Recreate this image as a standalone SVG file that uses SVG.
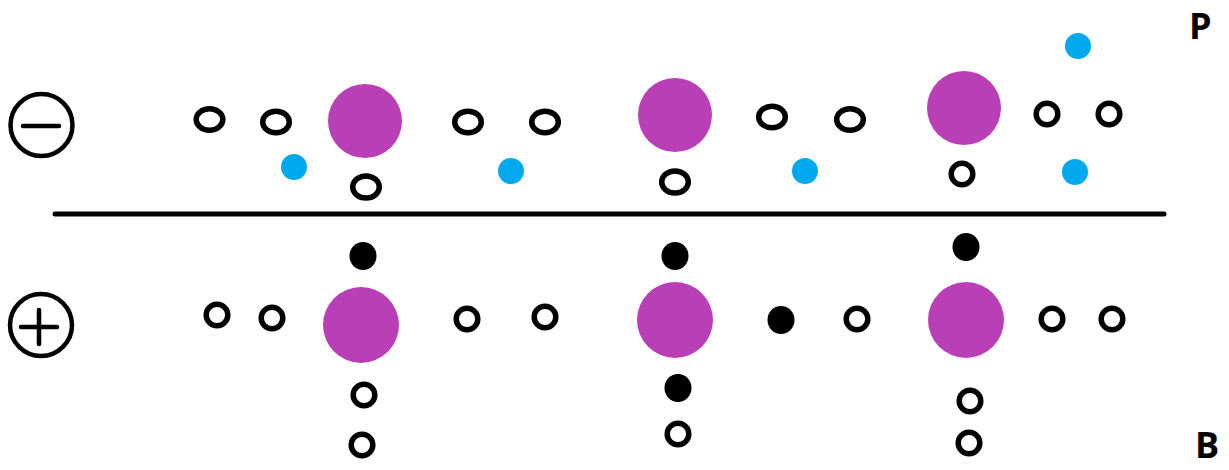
<svg xmlns="http://www.w3.org/2000/svg" width="1229" height="470" viewBox="0 0 1229 470">
<style>
.ion{fill:#B83FB6}
.blue{fill:#00A9EE}
.ring{fill:none;stroke:#000;stroke-width:5.5}
.dot{fill:#000}
.sign{fill:none;stroke:#000;stroke-width:4.5;stroke-linecap:round}
.lbl{font-family:"Open Sans","Liberation Sans",sans-serif;font-weight:bold;font-size:36px;fill:#000}
</style>
<rect width="1229" height="470" fill="#fff"/>
<g id="minus-sign"><circle class="sign" cx="41.5" cy="125" r="31"/><line class="sign" x1="23" y1="126" x2="59" y2="126"/></g>
<g id="plus-sign"><circle class="sign" cx="41" cy="325" r="31"/><line class="sign" x1="21" y1="327" x2="57" y2="327"/><line class="sign" x1="39" y1="310" x2="39" y2="344"/></g>
<g id="label-P"><text class="lbl" x="1189" y="39">P</text></g>
<g id="label-B"><text class="lbl" x="1195" y="458">B</text></g>
<g id="connectors"><line x1="55" y1="214" x2="1164" y2="214" stroke="#000" stroke-width="5" stroke-linecap="round"/></g>
<g id="top-row">
<g id="t-ion1"><circle class="ion" cx="365" cy="121" r="37"/></g>
<g id="t-ion2"><circle class="ion" cx="675" cy="115" r="37"/></g>
<g id="t-ion3"><circle class="ion" cx="964" cy="108" r="37"/></g>
<g id="t-b1"><circle class="blue" cx="294" cy="167" r="13"/></g>
<g id="t-b2"><circle class="blue" cx="511" cy="171" r="13"/></g>
<g id="t-b3"><circle class="blue" cx="805" cy="171" r="13"/></g>
<g id="t-b4"><circle class="blue" cx="1075" cy="172" r="13"/></g>
<g id="t-b5"><circle class="blue" cx="1078" cy="46" r="13"/></g>
<g id="t-r1"><ellipse class="ring" cx="209.5" cy="119.5" rx="13.3" ry="10.8"/></g>
<g id="t-r2"><ellipse class="ring" cx="276" cy="122" rx="13.3" ry="10.8"/></g>
<g id="t-r3"><ellipse class="ring" cx="366" cy="187" rx="13.3" ry="11"/></g>
<g id="t-r4"><ellipse class="ring" cx="468" cy="122" rx="13.3" ry="10.8"/></g>
<g id="t-r5"><ellipse class="ring" cx="545" cy="122" rx="13.3" ry="10.8"/></g>
<g id="t-r6"><ellipse class="ring" cx="675" cy="182" rx="13.3" ry="11"/></g>
<g id="t-r7"><ellipse class="ring" cx="772" cy="117" rx="13.3" ry="10.8"/></g>
<g id="t-r8"><ellipse class="ring" cx="850" cy="119.5" rx="13.3" ry="10.8"/></g>
<g id="t-r9"><circle class="ring" cx="962" cy="174" r="10.8"/></g>
<g id="t-r10"><circle class="ring" cx="1047" cy="114" r="10.8"/></g>
<g id="t-r11"><circle class="ring" cx="1109" cy="114" r="10.8"/></g>
</g>
<g id="bottom-row">
<g id="b-ion1"><circle class="ion" cx="361" cy="325" r="38"/></g>
<g id="b-ion2"><circle class="ion" cx="675" cy="320" r="38"/></g>
<g id="b-ion3"><circle class="ion" cx="966" cy="320" r="38"/></g>
<g id="b-d1"><ellipse class="dot" cx="363" cy="256" rx="13.5" ry="14"/></g>
<g id="b-d2"><ellipse class="dot" cx="675" cy="256" rx="13.5" ry="14"/></g>
<g id="b-d3"><ellipse class="dot" cx="966" cy="247" rx="13.5" ry="14"/></g>
<g id="b-d4"><ellipse class="dot" cx="781" cy="320" rx="13.5" ry="14"/></g>
<g id="b-d5"><ellipse class="dot" cx="678" cy="388" rx="13.5" ry="14"/></g>
<g id="b-r1"><circle class="ring" cx="217" cy="315" r="10.8"/></g>
<g id="b-r2"><circle class="ring" cx="272" cy="318" r="10.8"/></g>
<g id="b-r3"><circle class="ring" cx="364" cy="395" r="10.8"/></g>
<g id="b-r4"><circle class="ring" cx="362" cy="445" r="10.8"/></g>
<g id="b-r5"><circle class="ring" cx="467" cy="319" r="10.8"/></g>
<g id="b-r6"><circle class="ring" cx="545" cy="317" r="10.8"/></g>
<g id="b-r7"><circle class="ring" cx="678" cy="434" r="10.8"/></g>
<g id="b-r8"><circle class="ring" cx="857" cy="319" r="10.8"/></g>
<g id="b-r9"><circle class="ring" cx="1052" cy="319" r="10.8"/></g>
<g id="b-r10"><circle class="ring" cx="1112" cy="319" r="10.8"/></g>
<g id="b-r11"><circle class="ring" cx="970" cy="401" r="10.8"/></g>
<g id="b-r12"><circle class="ring" cx="969" cy="443" r="10.8"/></g>
</g>
</svg>
